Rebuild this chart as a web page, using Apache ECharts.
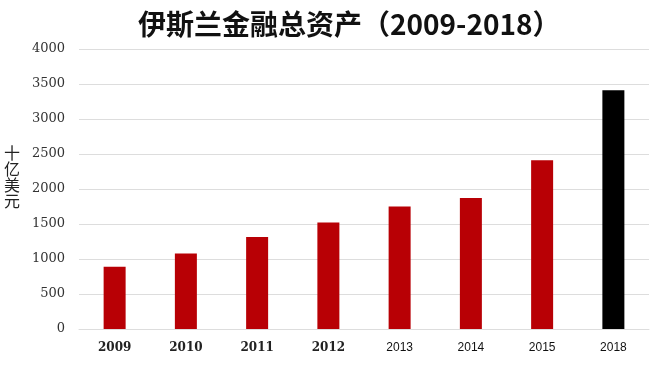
<!DOCTYPE html>
<html lang="zh">
<head>
    <meta charset="UTF-8">
    <title>伊斯兰金融总资产</title>
    <style>
        html, body { margin: 0; padding: 0; background: #fff; }
        #main { width: 652px; height: 377px; }
    </style>
    <script src="https://cdn.jsdelivr.net/npm/echarts@6/dist/echarts.min.js"></script>
</head>
<body>
<div id="main"></div>
<script>
    // 数据（十亿美元）
    var years = ['2009', '2010', '2011', '2012', '2013', '2014', '2015', '2018'];
    var assets = [890, 1080, 1315, 1520, 1750, 1870, 2410, 3410];
    var yTicks = [0, 500, 1000, 1500, 2000, 2500, 3000, 3500, 4000];

    var chart = echarts.init(document.getElementById('main'));

    var option = {
        animation: false,
        title: {
            text: '伊斯兰金融总资产（2009-2018）',
            left: 133,
            top: 5,
            textStyle: {
                fontFamily: 'Noto Sans CJK SC',
                fontSize: 28,
                fontWeight: 'bold',
                color: '#111'
            }
        },
        grid: {
            left: 79,
            right: 3,
            top: 49,
            bottom: 48,
            outerBoundsMode: 'none'
        },
        xAxis: {
            type: 'category',
            data: years,
            axisTick: {show: false},
            axisLine: {lineStyle: {color: '#ddd', width: 1}},
            axisLabel: {
                margin: 13,
                formatter: function (v) {
                    // 前四年的标签是衬线体，后面是无衬线
                    return (+v <= 2012 ? '{s|' : '{n|') + v + '}';
                },
                rich: {
                    s: {fontFamily: 'DejaVu Serif', fontWeight: 'bold', fontSize: 12, color: '#222'},
                    n: {fontFamily: 'Liberation Sans', fontSize: 12, color: '#111'}
                }
            }
        },
        yAxis: {
            type: 'value',
            min: yTicks[0],
            max: yTicks[yTicks.length - 1],
            interval: 500,
            // 最后一行是空白，用来把竖排单位往上推一点
            name: '十\n亿\n美\n元\n{g| }',
            nameLocation: 'middle',
            nameRotate: 0,
            nameGap: 59,
            nameTextStyle: {
                fontFamily: 'Noto Sans CJK SC',
                fontSize: 16,
                lineHeight: 16,
                color: '#222',
                rich: {
                    g: {fontSize: 4, lineHeight: 24}
                }
            },
            axisLine: {show: false},
            axisTick: {show: false},
            axisLabel: {
                margin: 14,
                fontFamily: 'DejaVu Serif',
                fontSize: 13,
                color: '#333',
                formatter: function (v) { return String(v); }
            },
            splitLine: {lineStyle: {color: '#ddd', width: 1}}
        },
        series: [{
            type: 'bar',
            data: assets,
            barWidth: 22,
            itemStyle: {
                color: function (p) {
                    return p.name === '2018' ? '#000' : '#b80005';
                }
            }
        }]
    };

    chart.setOption(option);
</script>
</body>
</html>
